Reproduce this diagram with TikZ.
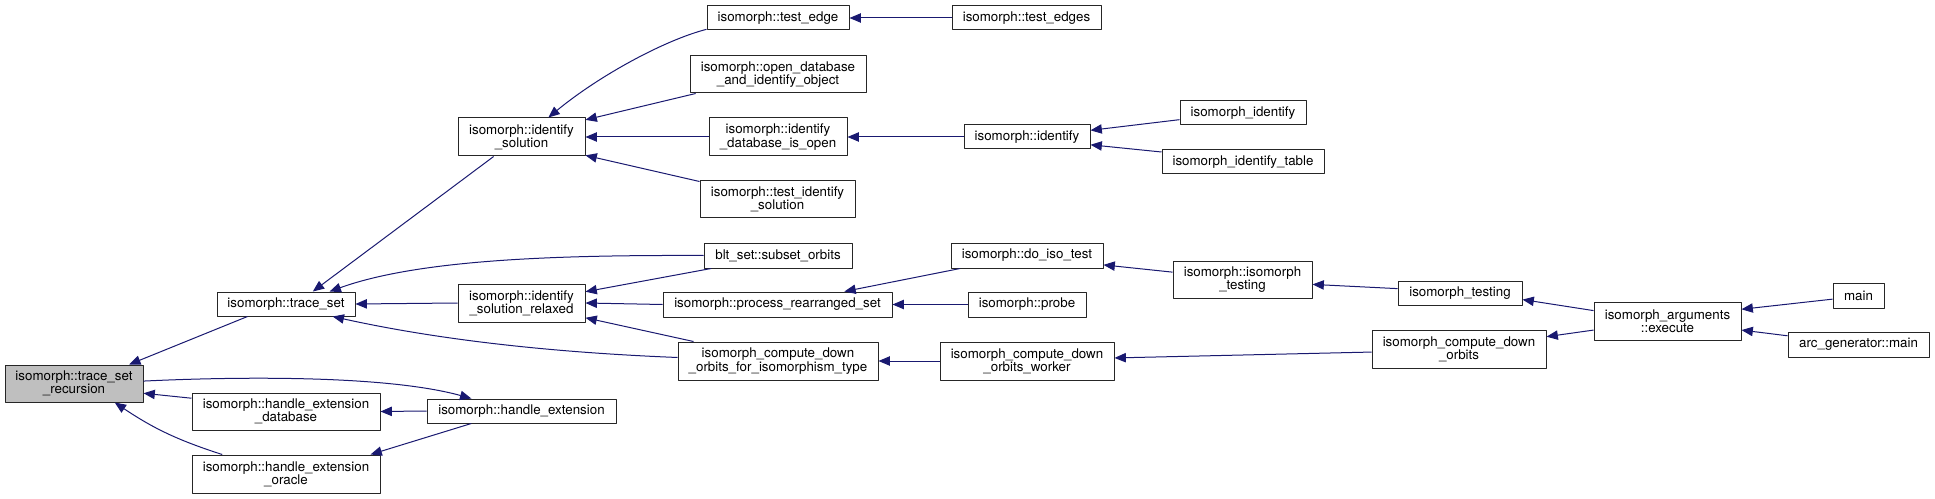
\documentclass[tikz,border=0pt]{standalone}
\usepackage{fontspec}
\setmainfont{TeX Gyre Heros}
\usetikzlibrary{arrows.meta}
\definecolor{calledge}{HTML}{191970}
\definecolor{focusfill}{HTML}{BFBFBF}

\begin{document}
\begin{tikzpicture}[
  x=0.75pt,
  y=-0.75pt,
  line join=round,
  fn/.style={draw=black!85,line width=0.75pt,fill=white,inner sep=1pt,
    align=center,font=\fontsize{10}{10}\selectfont},
  focus/.style={fn,fill=focusfill},
  call/.style={draw=calledge,line width=0.75pt,
    -{Triangle[length=8.5pt,width=7pt]}}
]
  % box from its two corners, in pixels of the original graph
  \newcommand{\fnbox}[7][fn]{%
    \node[#1,minimum width={(#5-#3)*0.75pt},minimum height={(#6-#4)*0.75pt}]
      (#2) at ({(#3+#5)/2},{(#4+#6)/2}) {#7};
  }
  \useasboundingbox (0,0) rectangle (1935,499);

  % Column 1 and 2.
  \fnbox[focus]{rec}{5}{365}{143}{402}{isomorph::trace\_set\\\_recursion}
  \fnbox{tset}{217}{292}{355}{316}{isomorph::trace\_set}
  \fnbox{hedb}{192}{393}{380}{430}{isomorph::handle\_extension\\\_database}
  \fnbox{heor}{192}{455}{380}{493}{isomorph::handle\_extension\\\_oracle}

  % Column 3.
  \fnbox{idsol}{458}{118}{585}{156}{isomorph::identify\\\_solution}
  \fnbox{idrel}{458}{284}{585}{322}{isomorph::identify\\\_solution\_relaxed}
  \fnbox{hext}{427}{399}{616}{423}{isomorph::handle\_extension}

  % Column 4.
  \fnbox{tedge}{707}{6}{849}{30}{isomorph::test\_edge}
  \fnbox{opendb}{690}{56}{866}{93}{isomorph::open\_database\\\_and\_identify\_object}
  \fnbox{iddbo}{709}{118}{847}{156}{isomorph::identify\\\_database\_is\_open}
  \fnbox{tidsol}{700}{181}{855}{218}{isomorph::test\_identify\\\_solution}
  \fnbox{blt}{704}{243}{852}{268}{blt\_set::subset\_orbits}
  \fnbox{prs}{663}{292}{892}{317}{isomorph::process\_rearranged\_set}
  \fnbox{cdoit}{678}{342}{878}{380}{isomorph\_compute\_down\\\_orbits\_for\_isomorphism\_type}

  % Column 5.
  \fnbox{tedges}{952}{6}{1101}{30}{isomorph::test\_edges}
  \fnbox{ident}{964}{125}{1090}{149}{isomorph::identify}
  \fnbox{doiso}{951}{243}{1103}{268}{isomorph::do\_iso\_test}
  \fnbox{probe}{968}{292}{1086}{317}{isomorph::probe}
  \fnbox{cdow}{940}{342}{1114}{380}{isomorph\_compute\_down\\\_orbits\_worker}

  % Column 6 to 9.
  \fnbox{isoid}{1180}{101}{1306}{125}{isomorph\_identify}
  \fnbox{isoidt}{1162}{150}{1324}{174}{isomorph\_identify\_table}
  \fnbox{isotest}{1173}{261}{1312}{298}{isomorph::isomorph\\\_testing}
  \fnbox{istesting}{1398}{281}{1522}{305}{isomorph\_testing}
  \fnbox{cdo}{1372}{330}{1546}{368}{isomorph\_compute\_down\\\_orbits}
  \fnbox{exec}{1594}{302}{1741}{340}{isomorph\_arguments\\::execute}
  \fnbox{mainf}{1833}{283}{1884}{308}{main}
  \fnbox{arcm}{1788}{332}{1929}{357}{arc\_generator::main}

  % Callers point back at the function they call.
  \draw[call] (tset.198) -- (rec.19);
  \draw[call] (rec.2) .. controls (250,376) and (390,376) .. (hext.166);
  \draw[call] (hedb.172) -- (rec.-8);
  \draw[call] (heor.163) to[bend left=8] (rec.-25);
  \draw[call] (hext.west) -- (hedb.east);
  \draw[call] (hext.194) -- (heor.13);

  \draw[call] (idsol.215) -- (tset.25);
  \draw[call] (blt.west) .. controls (560,255) and (420,259) .. (tset.16);
  \draw[call] (idrel.west) -- (tset.east);
  \draw[call] (cdoit.178) .. controls (540,352) and (430,338) .. (tset.-15);

  \draw[call] (tedge.189) .. controls (665,40) and (600,75) .. (idsol.36);
  \draw[call] (opendb.193) -- (idsol.15);
  \draw[call] (iddbo.west) -- (idsol.east);
  \draw[call] (tidsol.167) -- (idsol.-16);

  \draw[call] (blt.191) -- (idrel.10);
  \draw[call] (prs.west) -- (idrel.east);
  \draw[call] (cdoit.167) -- (idrel.-13);

  \draw[call] (tedges.west) -- (tedge.east);
  \draw[call] (ident.west) -- (iddbo.east);
  \draw[call] (doiso.191) -- (prs.11);
  \draw[call] (probe.west) -- (prs.east);
  \draw[call] (cdow.west) -- (cdoit.east);

  \draw[call] (isoid.186) -- (ident.6);
  \draw[call] (isoidt.173) -- (ident.-7);
  \draw[call] (isotest.174) -- (doiso.-7);
  \draw[call] (cdo.182) -- (cdow.2);
  \draw[call] (istesting.176) -- (isotest.-4);
  \draw[call] (exec.172) -- (istesting.-6);
  \draw[call] (exec.187) -- (cdo.8);
  \draw[call] (mainf.188) -- (exec.9);
  \draw[call] (arcm.173) -- (exec.-7);
\end{tikzpicture}
\end{document}
